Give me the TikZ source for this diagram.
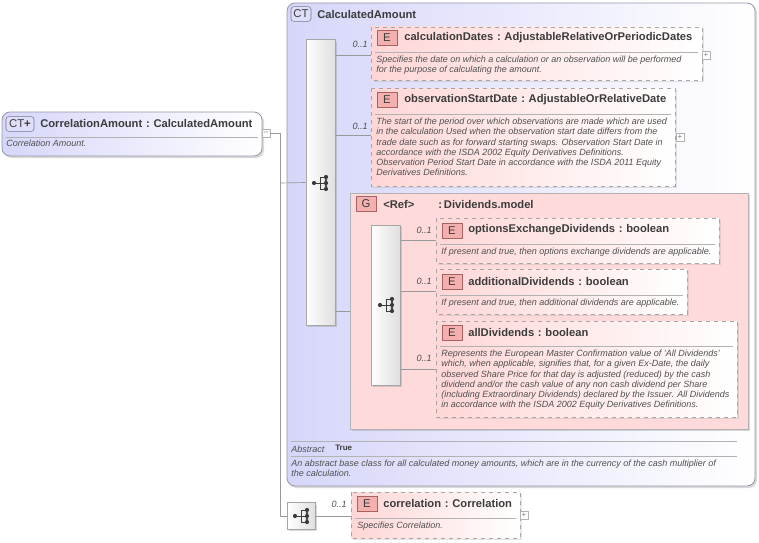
\documentclass[tikz,border=0pt]{standalone}
\usepackage{fontspec}
\setmainfont{Liberation Sans}
\usetikzlibrary{shadows}
\definecolor{ctb}{RGB}{214,214,250}
\definecolor{ctline}{RGB}{150,150,170}
\definecolor{elp}{RGB}{255,214,214}
\definecolor{grp}{RGB}{255,218,218}
\definecolor{badge}{RGB}{240,140,140}
\definecolor{txt}{RGB}{60,60,60}
\definecolor{dtxt}{RGB}{80,80,80}
\begin{document}
\begin{tikzpicture}[x=0.75pt,y=-0.75pt,
  ct/.style={draw=ctline,rounded corners=6pt,left color=ctb,right color=white,line width=0.6pt,drop shadow={shadow xshift=1.5pt,shadow yshift=-1.5pt,opacity=0.3}},
  el/.style={draw=gray!70,dashed,left color=elp,right color=white,line width=0.5pt,drop shadow={shadow xshift=1.5pt,shadow yshift=-1.5pt,opacity=0.2}},
  grp/.style={draw=gray!60,fill=grp,line width=0.6pt,drop shadow={shadow xshift=1.5pt,shadow yshift=-1.5pt,opacity=0.3}},
  seq/.style={draw=gray!70,left color=white,right color=gray!25,line width=0.5pt,drop shadow={shadow xshift=1.5pt,shadow yshift=-1.5pt,opacity=0.3}},
  con/.style={draw=gray!80,line width=0.5pt},
  ttl/.style={anchor=west,font=\fontsize{8.4}{9}\selectfont\bfseries,text=txt,inner sep=0},
  dsc/.style={anchor=north west,font=\fontsize{6.75}{7.6}\selectfont\itshape,text=dtxt,inner sep=0,align=left},
  mult/.style={anchor=east,font=\fontsize{6.8}{7}\selectfont\itshape,text=dtxt,inner sep=0},
  bdg/.style={draw=badge!70!black,fill=badge!70,text=txt,font=\fontsize{8.5}{9}\selectfont,minimum width=15pt,minimum height=11pt,inner sep=0},
  ctbdg/.style={draw=ctline!80!black,fill=ctb!80,rounded corners=2pt,text=txt,font=\fontsize{8.5}{9}\selectfont,minimum width=15pt,minimum height=11pt,inner sep=0},
  pm/.style={draw=gray!60,fill=white,minimum size=6pt,inner sep=0,font=\fontsize{6}{6}\selectfont,text=gray}]
\useasboundingbox (0,0) rectangle (759,542);
\newcommand{\seqicon}[2]{%
  \begin{scope}[shift={(#1,#2)}]
  \draw[txt,line width=0.7pt] (-6,0)--(0,0) (0,-6)--(0,6) (0,-6)--(6,-6) (0,0)--(6,0) (0,6)--(6,6);
  \fill[txt] (-6,0) circle (2.1) (6,-6) circle (2.1) (6,0) circle (2.1) (6,6) circle (2.1) (6,-3) circle (1.4) (6,3) circle (1.4);
  \end{scope}}
% CT box
\draw[ct] (287,3) rectangle (755,486);
\node[ctbdg] (ctb) at (301,14) {CT};
\node[ttl] (ctt) at (317,14) {CalculatedAmount};
% main element
\draw[ct] (2,112) rectangle (262,156);
\node[ctbdg,minimum width=21pt] (cab) at (20,124) {CT\textbf{+}};
\node[ttl] (cat) at (40,123) {CorrelationAmount\,\,:\,\,CalculatedAmount};
\draw[gray!60] (6,137)--(258,137);
\node[dsc] (cad) at (6,140) {Correlation Amount.};
\node[pm] (min) at (266,133) {--};
% connectors
\coordinate (j1) at (280,133);
\coordinate (j2) at (280,516);
\draw[con] (min)--(j1)--(j2);
\coordinate (j3) at (280,183);
% sequence 1
\node[seq,minimum width=22pt,minimum height=214pt,inner sep=0] (s1) at (320.5,182.5) {};
\seqicon{320}{183}
\draw[con] (j3)--(s1.west);
% calculationDates
\draw[el] (371,27) rectangle (702,80);
\node[bdg] (b1) at (387,38) {E};
\node[ttl] (t1) at (404,38) {calculationDates\,\,:\,\,AdjustableRelativeOrPeriodicDates};
\draw[gray!60] (375,52)--(698,52);
\node[dsc] (d1) at (376,56) {Specifies the date on which a calculation or an observation will be performed\\for the purpose of calculating the amount.};
\node[pm] (p1) at (706,55) {+};
\coordinate (c1) at (335,55); \coordinate (e1) at (371,55);
\draw[con] (c1)--(e1);
\node[mult] at (368,44) {0..1};
% observationStartDate
\draw[el] (371,88) rectangle (675,186);
\node[bdg] (b2) at (387,100) {E};
\node[ttl] (t2) at (404,100) {observationStartDate\,\,:\,\,AdjustableOrRelativeDate};
\draw[gray!60] (375,114)--(671,114);
\node[dsc] (d2) at (376,118) {The start of the period over which observations are made which are used\\in the calculation Used when the observation start date differs from the\\trade date such as for forward starting swaps. Observation Start Date in\\accordance with the ISDA 2002 Equity Derivatives Definitions.\\Observation Period Start Date in accordance with the ISDA 2011 Equity\\Derivatives Definitions.};
\node[pm] (p2) at (680,137) {+};
\coordinate (c2) at (335,135); \coordinate (e2) at (371,135);
\draw[con] (c2)--(e2);
\node[mult] at (368,126) {0..1};
% group
\draw[grp] (350,193) rectangle (748,429);
\node[bdg] (g) at (366,204) {G};
\node[ttl] (gt) at (383,204) {<Ref>\hspace{18pt}:\,Dividends.model};
\coordinate (c3) at (335,311); \coordinate (e3) at (350,311);
\draw[con] (c3)--(e3);
% inner seq
\node[seq,minimum width=22pt,minimum height=120pt,inner sep=0] (s2) at (385.5,305) {};
\seqicon{386}{305}
\draw[con] (s2.east|-0,240)--(436,240);
\draw[con] (s2.east|-0,291)--(436,291);
\draw[con] (s2.east|-0,369)--(436,369);
\node[mult] at (432,230) {0..1};
\node[mult] at (432,281) {0..1};
\node[mult] at (432,358) {0..1};
% options
\draw[el] (436,218) rectangle (719,263);
\node[bdg] (b3) at (452,231) {E};
\node[ttl] (t3) at (468,230) {optionsExchangeDividends\,\,:\,\,boolean};
\draw[gray!60] (440,244)--(715,244);
\node[dsc] (d3) at (441,248) {If present and true, then options exchange dividends are applicable.};
% additional
\draw[el] (436,269) rectangle (687,314);
\node[bdg] (b4) at (452,282) {E};
\node[ttl] (t4) at (468,281) {additionalDividends\,\,:\,\,boolean};
\draw[gray!60] (440,295)--(683,295);
\node[dsc] (d4) at (441,299) {If present and true, then additional dividends are applicable.};
% all
\draw[el] (436,321) rectangle (737,417);
\node[bdg] (b5) at (452,333) {E};
\node[ttl] (t5) at (468,332) {allDividends\,\,:\,\,boolean};
\draw[gray!60] (440,346)--(733,346);
\node[dsc] (d5) at (441,350) {Represents the European Master Confirmation value of 'All Dividends'\\which, when applicable, signifies that, for a given Ex-Date, the daily\\observed Share Price for that day is adjusted (reduced) by the cash\\dividend and/or the cash value of any non cash dividend per Share\\(including Extraordinary Dividends) declared by the Issuer. All Dividends\\in accordance with the ISDA 2002 Equity Derivatives Definitions.};
% abstract
\draw[gray!60] (291,441)--(737,441);
\node[dsc,anchor=west] (ab) at (291,449) {Abstract};
\node[anchor=west,inner sep=0,font=\fontsize{6}{6}\selectfont\bfseries,text=txt] (abt) at (335,448) {True};
\draw[gray!60] (291,456)--(737,456);
\node[dsc] (d6) at (291,460) {An abstract base class for all calculated money amounts, which are in the currency of the cash multiplier of\\the calculation.};
% bottom
\node[seq,minimum width=21pt,minimum height=20pt,inner sep=0] (s3) at (301,516) {};
\seqicon{301}{516}
\draw[con] (j2)--(s3.west);
\draw[con] (s3.east)--(351,516);
\node[mult] at (347,504) {0..1};
\draw[el] (351,492) rectangle (520,538);
\node[bdg] (b6) at (367,504) {E};
\node[ttl] (t6) at (383,503) {correlation\,\,:\,\,Correlation};
\draw[gray!60] (355,518)--(516,518);
\node[dsc] (d7) at (357,522) {Specifies Correlation.};
\node[pm] (p3) at (524,515) {+};
\end{tikzpicture}
\end{document}
